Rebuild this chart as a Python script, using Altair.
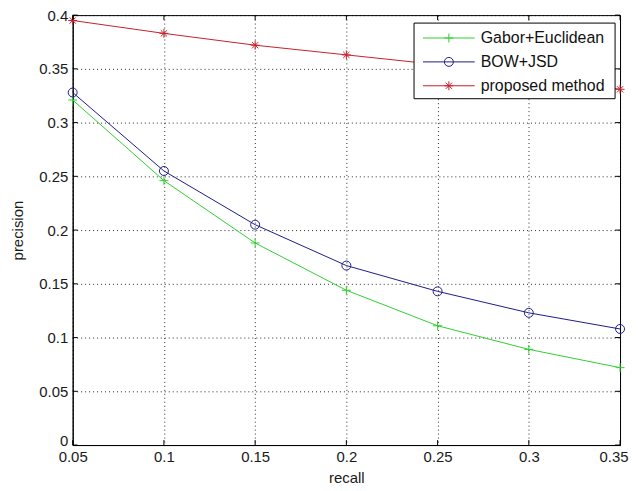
import altair as alt
import pandas as pd

recall = [0.05, 0.10, 0.15, 0.20, 0.25, 0.30, 0.35]
gabor_euclidean = [0.321, 0.246, 0.188, 0.144, 0.111, 0.089, 0.072]
bow_jsd = [0.328, 0.255, 0.205, 0.167, 0.143, 0.123, 0.108]
proposed = [0.395, 0.383, 0.372, 0.363, 0.354, 0.343, 0.331]

series_names = ["Gabor+Euclidean", "BOW+JSD", "proposed method"]
series_colors = ["#2fd02f", "#1c1c88", "#c8202a"]
x_ticks = [0.05, 0.10, 0.15, 0.20, 0.25, 0.30, 0.35]
y_ticks = [0, 0.05, 0.10, 0.15, 0.20, 0.25, 0.30, 0.35, 0.40]

PLUS = "M-1,0H1M0,-1V1"
STAR = "M-1,0H1M0,-1V1M-0.7,-0.7L0.7,0.7M-0.7,0.7L0.7,-0.7"
shapes = [PLUS, "circle", STAR]

W, H = 550, 432
FONT = "Liberation Sans"

rows = []
for name, vals in zip(series_names, [gabor_euclidean, bow_jsd, proposed]):
    for r, p in zip(recall, vals):
        rows.append({"series": name, "recall": r, "precision": p})
df = pd.DataFrame(rows)

color_scale = alt.Scale(domain=series_names, range=series_colors)
shape_scale = alt.Scale(domain=series_names, range=shapes)
xs = alt.Scale(domain=[0.05, 0.35], nice=False, zero=False)
ys = alt.Scale(domain=[0, 0.4], nice=False)

axis_style = dict(
    ticks=False, grid=True, gridDash=[1, 3], gridColor="#000", gridOpacity=0.85,
    labelOverlap=False, labelFlush=False, labelPadding=5,
    labelFont=FONT, titleFont=FONT, labelFontSize=15, titleFontSize=15,
    labelColor="#1a1a1a", titleColor="#1a1a1a", titleFontWeight="normal",
    domainColor="#000", domainWidth=1, format=".2~f")

last_x = max(x_ticks) - 0.001
x_enc = alt.X("recall:Q", scale=xs, title="recall",
              axis=alt.Axis(values=x_ticks, titleY=33, titleBaseline="middle",
                            labelAlign={"condition": {"test": f"datum.value >= {last_x}", "value": "right"},
                                        "value": "center"},
                            labelOffset={"condition": {"test": f"datum.value >= {last_x}", "value": 8},
                                         "value": 0},
                            **axis_style))
y_enc = alt.Y("precision:Q", scale=ys, title="precision",
              axis=alt.Axis(values=y_ticks, titleX=-47,
                            labelBaseline={"condition": {"test": "datum.value == 0", "value": "alphabetic"},
                                           "value": "middle"},
                            **axis_style))

base = alt.Chart(df)
lines = base.mark_line(strokeWidth=1).encode(
    x=x_enc, y=y_enc,
    color=alt.Color("series:N", scale=color_scale, legend=None),
    detail="series:N")
points = base.mark_point(filled=False, strokeWidth=1, size=81, opacity=1).encode(
    x="recall:Q", y="precision:Q",
    color=alt.Color("series:N", scale=color_scale, legend=None),
    shape=alt.Shape("series:N", scale=shape_scale, legend=None))

xt = pd.DataFrame({"recall": x_ticks})
yt = pd.DataFrame({"precision": y_ticks})
tick_layers = [
    alt.Chart(xt).mark_rule(color="#000", strokeWidth=1).encode(
        x="recall:Q", y=alt.value(H), y2=alt.value(H - 5)),
    alt.Chart(xt).mark_rule(color="#000", strokeWidth=1).encode(
        x="recall:Q", y=alt.value(0), y2=alt.value(5)),
    alt.Chart(yt).mark_rule(color="#000", strokeWidth=1).encode(
        y="precision:Q", x=alt.value(0), x2=alt.value(5)),
    alt.Chart(yt).mark_rule(color="#000", strokeWidth=1).encode(
        y="precision:Q", x=alt.value(W), x2=alt.value(W - 5)),
]

# manual legend (MATLAB style)
leg_df = pd.DataFrame({"series": series_names})
legend_box = alt.Chart(pd.DataFrame({"a": [0]})).mark_rect(
    fill="white", stroke="#000", strokeWidth=1).encode(
    x=alt.value(343), x2=alt.value(545), y=alt.value(8), y2=alt.value(84))
legend_layers = [legend_box]
for i, name in enumerate(series_names):
    ly = 23 + i * 24
    sub = alt.Chart(leg_df).transform_filter(alt.datum.series == name)
    legend_layers.append(sub.mark_rule(strokeWidth=1).encode(
        x=alt.value(352), x2=alt.value(404), y=alt.value(ly),
        color=alt.Color("series:N", scale=color_scale, legend=None)))
    legend_layers.append(sub.mark_point(filled=False, strokeWidth=1, size=81, opacity=1).encode(
        x=alt.value(378), y=alt.value(ly),
        color=alt.Color("series:N", scale=color_scale, legend=None),
        shape=alt.Shape("series:N", scale=shape_scale, legend=None)))
    legend_layers.append(sub.mark_text(align="left", baseline="middle", font=FONT,
                                       fontSize=16, color="#111").encode(
        x=alt.value(410), y=alt.value(ly), text="series:N"))

chart = alt.layer(lines, points, *tick_layers, *legend_layers).properties(
    width=W, height=H,
    autosize=alt.AutoSizeParams(type="none"),
    padding={"left": 65, "top": 6, "right": 10, "bottom": 40},
    background="white",
).configure_view(stroke="#000", strokeWidth=1)

chart.save("out.html", embed_options={"renderer": "svg", "actions": False})
